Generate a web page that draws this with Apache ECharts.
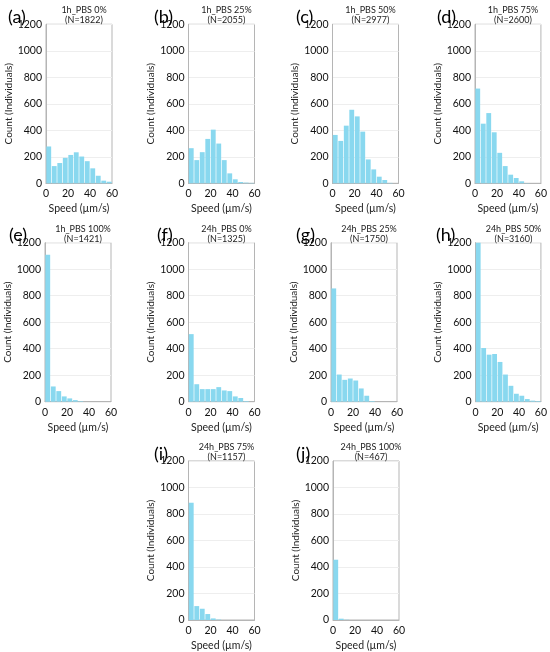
<!DOCTYPE html>
<html>
<head>
<meta charset="utf-8">
<script src="https://cdn.jsdelivr.net/npm/echarts@6/dist/echarts.min.js"></script>
<style>
html, body { margin: 0; padding: 0; background: #fff; }
#main { width: 550px; height: 652px; }
</style>
</head>
<body>
<div id="main"></div>
<script>
// bin centres, 5 um/s wide bins from 0 to 60
var binCenters = [2.5, 7.5, 12.5, 17.5, 22.5, 27.5, 32.5, 37.5, 42.5, 47.5, 52.5, 57.5];

var panelLetters = ['(a)', '(b)', '(c)', '(d)', '(e)', '(f)', '(g)', '(h)', '(i)', '(j)'];
var panelNames = ['1h_PBS 0%', '1h_PBS 25%', '1h_PBS 50%', '1h_PBS 75%', '1h_PBS 100%',
    '24h_PBS 0%', '24h_PBS 25%', '24h_PBS 50%', '24h_PBS 75%', '24h_PBS 100%'];
var panelN = [1822, 2055, 2977, 2600, 1421, 1325, 1750, 3160, 1157, 467];

var counts_a = [278, 130, 153, 192, 214, 234, 202, 167, 113, 57, 20, 12];
var counts_b = [265, 175, 235, 335, 405, 300, 175, 75, 30, 10, 5, 3];
var counts_c = [365, 320, 435, 555, 505, 390, 180, 105, 50, 25, 3, 0];
var counts_d = [715, 450, 530, 385, 230, 130, 65, 40, 15, 2, 0, 0];
var counts_e = [1110, 115, 80, 40, 25, 12, 4, 0, 0, 0, 0, 0];
var counts_f = [510, 132, 95, 95, 95, 110, 85, 80, 40, 28, 5, 0];
var counts_g = [855, 205, 165, 175, 160, 100, 45, 5, 0, 0, 0, 0];
var counts_h = [1200, 405, 355, 360, 300, 205, 120, 60, 45, 20, 8, 5];
var counts_i = [885, 105, 85, 45, 12, 3, 0, 0, 0, 0, 0, 0];
var counts_j = [455, 10, 2, 0, 0, 0, 0, 0, 0, 0, 0, 0];
var allCounts = [counts_a, counts_b, counts_c, counts_d, counts_e, counts_f, counts_g, counts_h, counts_i, counts_j];

var yTicks = [0, 200, 400, 600, 800, 1000, 1200];
var xTicks = [0, 20, 40, 60];

// plot rectangles (left, top) for each panel
var lefts = [46, 188.5, 332.5, 475, 45, 188.5, 331, 475.5, 188.5, 333];
var tops = [24.3, 24.3, 24.3, 24.3, 242.7, 242.7, 242.7, 242.7, 461, 461];
var plotW = 66;
var plotH = 159;
var letterX = [3, 149, 291, 432, 4, 152, 291, 431, 149, 291];
var letterY = [3, 3, 3, 3, 221, 221, 221, 221, 440, 440];

var fontFam = 'Lato, "Open Sans", sans-serif';
var barColor = '#89d8ef';

var grids = [], xAxes = [], yAxes = [], series = [], titles = [];

for (var i = 0; i < allCounts.length; i++) {
    grids.push({
        left: lefts[i], top: tops[i], width: plotW, height: plotH,
        show: true, borderColor: '#b5b5b5', borderWidth: 1, backgroundColor: 'transparent'
    });
    xAxes.push({
        type: 'value', gridIndex: i, min: xTicks[0], max: xTicks[xTicks.length - 1], interval: 20,
        name: 'Speed (\u00b5m/s)', nameLocation: 'middle', nameGap: 20,
        nameTextStyle: { fontFamily: fontFam, fontSize: 10.5, color: '#222' },
        axisLine: { show: true, lineStyle: { color: '#b5b5b5' } },
        axisTick: { show: false },
        axisLabel: { fontFamily: fontFam, fontSize: 10.5, color: '#111', margin: 5 },
        splitLine: { show: false }
    });
    yAxes.push({
        type: 'value', gridIndex: i, min: yTicks[0], max: yTicks[yTicks.length - 1], interval: 200,
        name: 'Count (Individuals)', nameLocation: 'middle', nameGap: 31,
        nameTextStyle: { fontFamily: fontFam, fontSize: 10, color: '#222' },
        axisLine: { show: true, lineStyle: { color: '#b5b5b5' } },
        axisTick: { show: false },
        axisLabel: {
            fontFamily: fontFam, fontSize: 10.5, color: '#111', margin: 4,
            formatter: function (v) { return String(v); }
        },
        splitLine: { show: true, lineStyle: { color: '#eeeeee', width: 1 } }
    });
    var d = [];
    for (var k = 0; k < binCenters.length; k++) {
        d.push([binCenters[k], allCounts[i][k]]);
    }
    series.push({
        type: 'bar', xAxisIndex: i, yAxisIndex: i, data: d,
        barWidth: '88%', itemStyle: { color: barColor }, silent: true
    });
    titles.push({
        text: panelNames[i] + '\n(N=' + panelN[i] + ')',
        left: lefts[i] + plotW / 2, top: tops[i] - 24, textAlign: 'center',
        textStyle: { fontFamily: fontFam, fontSize: 9, fontWeight: 'normal', color: '#222', lineHeight: 10 }
    });
    titles.push({
        text: panelLetters[i], left: letterX[i], top: letterY[i],
        textStyle: { fontFamily: fontFam, fontSize: 18, fontWeight: 'normal', color: '#000' }
    });
}

var myChart = echarts.init(document.getElementById('main'), null, { renderer: 'canvas' });
myChart.setOption({
    animation: false,
    backgroundColor: '#fff',
    title: titles,
    grid: grids,
    xAxis: xAxes,
    yAxis: yAxes,
    series: series
});
</script>
</body>
</html>
